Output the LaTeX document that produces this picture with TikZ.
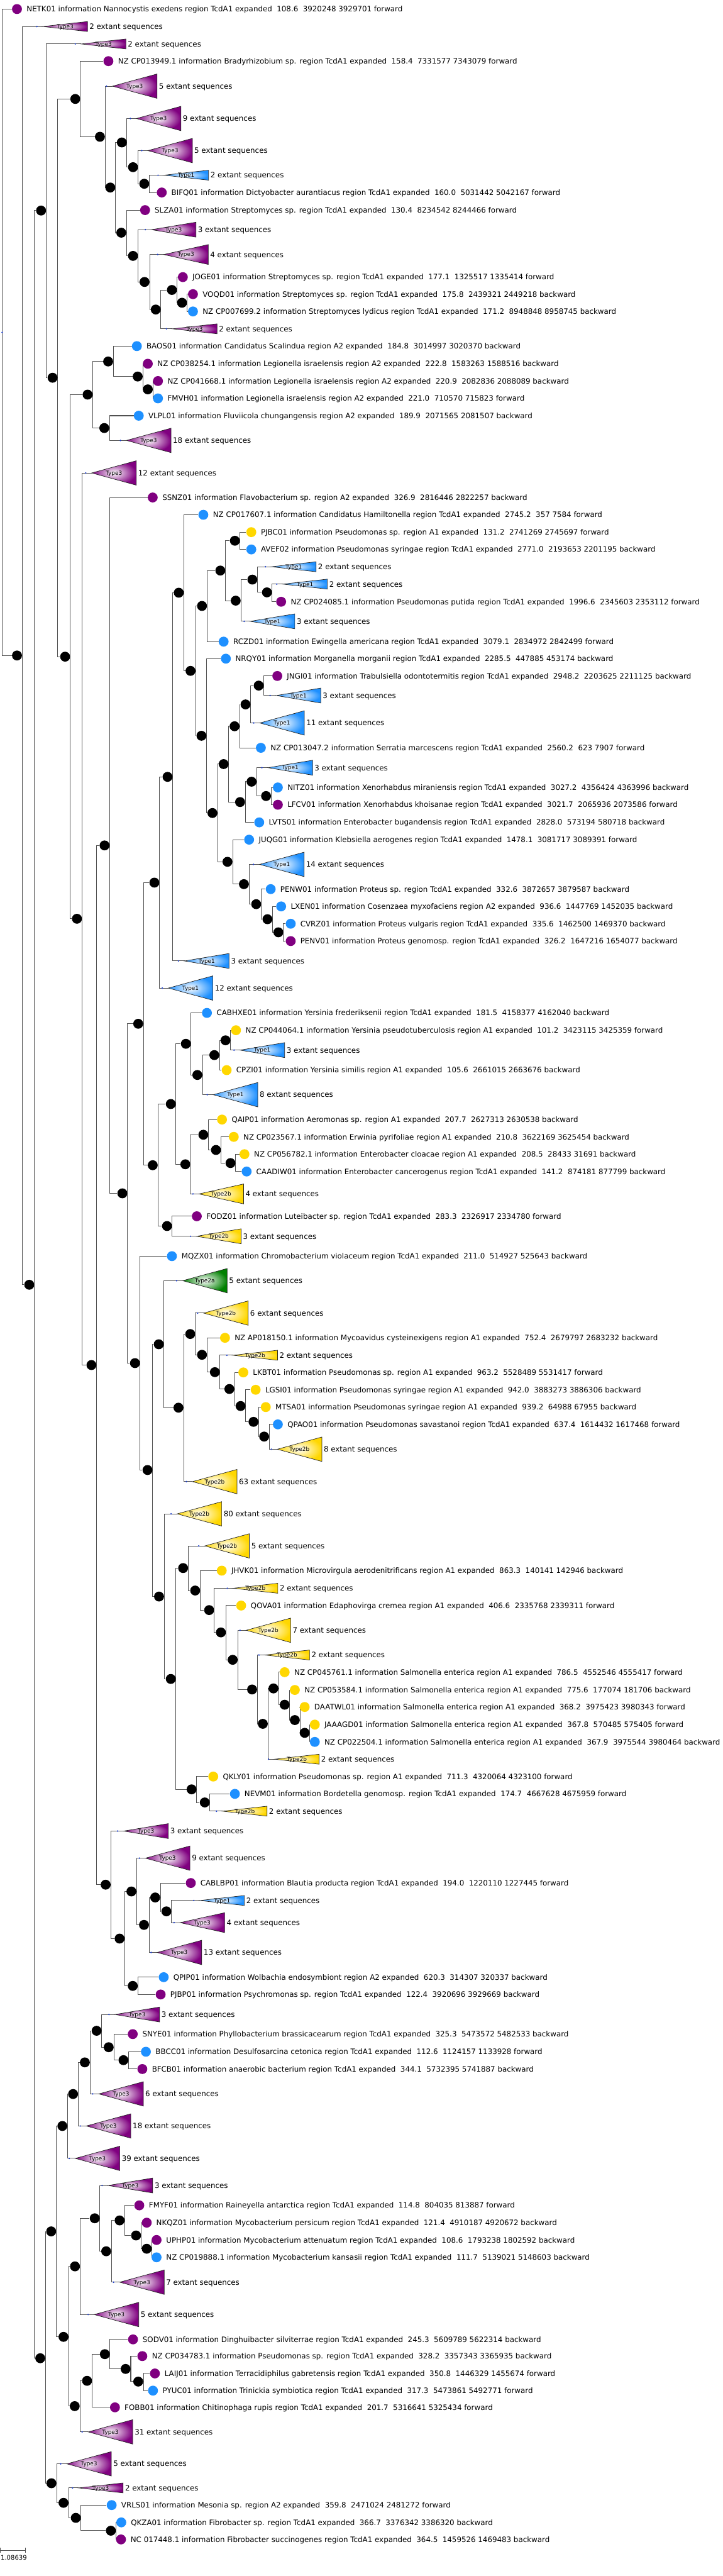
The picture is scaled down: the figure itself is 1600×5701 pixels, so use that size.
\documentclass[tikz,border=0pt]{standalone}
\usepackage{fontspec}
\setmainfont{DejaVu Sans}
\usetikzlibrary{calc}
\definecolor{cP}{HTML}{800080}
\definecolor{cB}{HTML}{1E90FF}
\definecolor{cY}{HTML}{FFD700}
\definecolor{cG}{HTML}{008000}
\definecolor{cD}{HTML}{1A3CC8}
\definecolor{cL}{HTML}{505050}
\pgfdeclarelayer{bg}
\pgfsetlayers{bg,main}
\newcommand\twosp{\ \ }
\newcommand\leafn[5]{\node[leafc, fill=#2] (#1) at (#3,#4) {}; \node[lbl] (#1t) at ({#3+21},{#4+6}) {#5};}
\newcommand\inn[3]{\node[innode] (#1) at (#2,#3) {};}
\newcommand\clade[7]{%
 \coordinate (#1) at ({#2+13.5},#3);
 \shadedraw[tri, outer color=#6] (#1) -- ++(98.5,#4) -- ++(0,{-2*#4}) -- cycle;
 \node[typ] (#1y) at ({#2+62.5},{#3+4.5}) {#5};
 \node[lbl] (#1t) at ({#2+116},{#3+6}) {#7 extant sequences};
 \node[bdot] (#1d) at (#2,#3) {};
}
\begin{document}
\begin{tikzpicture}[x=0.5pt,y=-0.5pt,
 br/.style={draw=cL, line width=0.7pt},
 innode/.style={circle, fill=black, minimum size=11pt, inner sep=0pt},
 leafc/.style={circle, minimum size=11pt, inner sep=0pt},
 lbl/.style={anchor=base west, inner sep=0pt, font=\fontsize{8.25pt}{9pt}\selectfont},
 typ/.style={anchor=base, inner sep=0pt, font=\fontsize{6.2pt}{7pt}\selectfont},
 bdot/.style={circle, fill=cD, minimum size=1.8pt, inner sep=0pt},
 tri/.style={draw=black!85, line width=0.5pt, inner color=white}]
\useasboundingbox (0,0) rectangle (1600,5701);
% ---------- leaves
\leafn{L1}{cP}{37.6}{20}{NETK01 information Nannocystis exedens region TcdA1 expanded\twosp 108.6\twosp 3920248 3929701 forward}
\leafn{L2}{cP}{240}{135.3}{NZ CP013949.1 information Bradyrhizobium sp. region TcdA1 expanded\twosp 158.4\twosp 7331577 7343079 forward}
\leafn{L3}{cP}{358.1}{426}{BIFQ01 information Dictyobacter aurantiacus region TcdA1 expanded\twosp 160.0\twosp 5031442 5042167 forward}
\leafn{L4}{cP}{321.2}{465}{SLZA01 information Streptomyces sp. region TcdA1 expanded\twosp 130.4\twosp 8234542 8244466 forward}
\leafn{L5}{cP}{404.8}{613.3}{JOGE01 information Streptomyces sp. region TcdA1 expanded\twosp 177.1\twosp 1325517 1335414 forward}
\leafn{L6}{cP}{427.2}{651}{VOQD01 information Streptomyces sp. region TcdA1 expanded\twosp 175.8\twosp 2439321 2449218 backward}
\leafn{L7}{cB}{427.2}{689.3}{NZ CP007699.2 information Streptomyces lydicus region TcdA1 expanded\twosp 171.2\twosp 8948848 8958745 backward}
\leafn{L8}{cB}{303}{766}{BAOS01 information Candidatus Scalindua region A2 expanded\twosp 184.8\twosp 3014997 3020370 backward}
\leafn{L9}{cP}{327.2}{805}{NZ CP038254.1 information Legionella israelensis region A2 expanded\twosp 222.8\twosp 1583263 1588516 backward}
\leafn{L10}{cP}{349.7}{843.3}{NZ CP041668.1 information Legionella israelensis region A2 expanded\twosp 220.9\twosp 2082836 2088089 backward}
\leafn{L11}{cB}{349.7}{881.7}{FMVH01 information Legionella israelensis region A2 expanded\twosp 221.0\twosp 710570 715823 forward}
\leafn{L12}{cB}{307.2}{920}{VLPL01 information Fluviicola chungangensis region A2 expanded\twosp 189.9\twosp 2071565 2081507 backward}
\leafn{L13}{cP}{338.1}{1101}{SSNZ01 information Flavobacterium sp. region A2 expanded\twosp 326.9\twosp 2816446 2822257 backward}
\leafn{L14}{cB}{450.2}{1139.3}{NZ CP017607.1 information Candidatus Hamiltonella region TcdA1 expanded\twosp 2745.2\twosp 357 7584 forward}
\leafn{L15}{cY}{556.3}{1177.7}{PJBC01 information Pseudomonas sp. region A1 expanded\twosp 131.2\twosp 2741269 2745697 forward}
\leafn{L16}{cB}{556.3}{1216}{AVEF02 information Pseudomonas syringae region TcdA1 expanded\twosp 2771.0\twosp 2193653 2201195 backward}
\leafn{L17}{cP}{622.4}{1331.7}{NZ CP024085.1 information Pseudomonas putida region TcdA1 expanded\twosp 1996.6\twosp 2345603 2353112 forward}
\leafn{L18}{cB}{495.1}{1420}{RCZD01 information Ewingella americana region TcdA1 expanded\twosp 3079.1\twosp 2834972 2842499 forward}
\leafn{L19}{cB}{500}{1457.7}{NRQY01 information Morganella morganii region TcdA1 expanded\twosp 2285.5\twosp 447885 453174 backward}
\leafn{L20}{cP}{613.9}{1496}{JNGI01 information Trabulsiella odontotermitis region TcdA1 expanded\twosp 2948.2\twosp 2203625 2211125 backward}
\leafn{L21}{cB}{577.5}{1655}{NZ CP013047.2 information Serratia marcescens region TcdA1 expanded\twosp 2560.2\twosp 623 7907 forward}
\leafn{L22}{cB}{615.1}{1742.7}{NITZ01 information Xenorhabdus miraniensis region TcdA1 expanded\twosp 3027.2\twosp 4356424 4363996 backward}
\leafn{L23}{cP}{615.1}{1781}{LFCV01 information Xenorhabdus khoisanae region TcdA1 expanded\twosp 3021.7\twosp 2065936 2073586 forward}
\leafn{L24}{cB}{573.9}{1820}{LVTS01 information Enterobacter bugandensis region TcdA1 expanded\twosp 2828.0\twosp 573194 580718 backward}
\leafn{L25}{cB}{551.5}{1858.3}{JUQG01 information Klebsiella aerogenes region TcdA1 expanded\twosp 1478.1\twosp 3081717 3089391 forward}
\leafn{L26}{cB}{599.3}{1967.7}{PENW01 information Proteus sp. region TcdA1 expanded\twosp 332.6\twosp 3872657 3879587 backward}
\leafn{L27}{cB}{622.4}{2006}{LXEN01 information Cosenzaea myxofaciens region A2 expanded\twosp 936.6\twosp 1447769 1452035 backward}
\leafn{L28}{cB}{643.6}{2044.3}{CVRZ01 information Proteus vulgaris region TcdA1 expanded\twosp 335.6\twosp 1462500 1469370 backward}
\leafn{L29}{cP}{643.6}{2082.7}{PENV01 information Proteus genomosp. region TcdA1 expanded\twosp 326.2\twosp 1647216 1654077 backward}
\leafn{L30}{cB}{458.1}{2241.7}{CABHXE01 information Yersinia frederiksenii region TcdA1 expanded\twosp 181.5\twosp 4158377 4162040 backward}
\leafn{L31}{cY}{522.4}{2280}{NZ CP044064.1 information Yersinia pseudotuberculosis region A1 expanded\twosp 101.2\twosp 3423115 3425359 forward}
\leafn{L32}{cY}{501.8}{2368.3}{CPZI01 information Yersinia similis region A1 expanded\twosp 105.6\twosp 2661015 2663676 backward}
\leafn{L33}{cY}{491.5}{2477.7}{QAIP01 information Aeromonas sp. region A1 expanded\twosp 207.7\twosp 2627313 2630538 backward}
\leafn{L34}{cY}{517.5}{2516}{NZ CP023567.1 information Erwinia pyrifoliae region A1 expanded\twosp 210.8\twosp 3622169 3625454 backward}
\leafn{L35}{cY}{541.2}{2554.3}{NZ CP056782.1 information Enterobacter cloacae region A1 expanded\twosp 208.5\twosp 28433 31691 backward}
\leafn{L36}{cB}{546}{2592.7}{CAADIW01 information Enterobacter cancerogenus region TcdA1 expanded\twosp 141.2\twosp 874181 877799 backward}
\leafn{L37}{cP}{435.7}{2691.7}{FODZ01 information Luteibacter sp. region TcdA1 expanded\twosp 283.3\twosp 2326917 2334780 forward}
\leafn{L38}{cB}{380.6}{2780}{MQZX01 information Chromobacterium violaceum region TcdA1 expanded\twosp 211.0\twosp 514927 525643 backward}
\leafn{L39}{cY}{498.1}{2960.7}{NZ AP018150.1 information Mycoavidus cysteinexigens region A1 expanded\twosp 752.4\twosp 2679797 2683232 backward}
\leafn{L40}{cY}{538.7}{3037.3}{LKBT01 information Pseudomonas sp. region A1 expanded\twosp 963.2\twosp 5528489 5531417 forward}
\leafn{L41}{cY}{566}{3075.7}{LGSI01 information Pseudomonas syringae region A1 expanded\twosp 942.0\twosp 3883273 3886306 backward}
\leafn{L42}{cY}{588.4}{3114}{MTSA01 information Pseudomonas syringae region A1 expanded\twosp 939.2\twosp 64988 67955 backward}
\leafn{L43}{cB}{615.1}{3152.3}{QPAO01 information Pseudomonas savastanoi region TcdA1 expanded\twosp 637.4\twosp 1614432 1617468 forward}
\leafn{L44}{cY}{490.9}{3476}{JHVK01 information Microvirgula aerodenitrificans region A1 expanded\twosp 863.3\twosp 140141 142946 backward}
\leafn{L45}{cY}{533.9}{3553.3}{QOVA01 information Edaphovirga cremea region A1 expanded\twosp 406.6\twosp 2335768 2339311 forward}
\leafn{L46}{cY}{630.2}{3700.7}{NZ CP045761.1 information Salmonella enterica region A1 expanded\twosp 786.5\twosp 4552546 4555417 forward}
\leafn{L47}{cY}{652.7}{3740}{NZ CP053584.1 information Salmonella enterica region A1 expanded\twosp 775.6\twosp 177074 181706 backward}
\leafn{L48}{cY}{674.5}{3777.7}{DAATWL01 information Salmonella enterica region A1 expanded\twosp 368.2\twosp 3975423 3980343 forward}
\leafn{L49}{cY}{696.9}{3816.7}{JAAAGD01 information Salmonella enterica region A1 expanded\twosp 367.8\twosp 570485 575405 forward}
\leafn{L50}{cB}{696.9}{3855}{NZ CP022504.1 information Salmonella enterica region A1 expanded\twosp 367.9\twosp 3975544 3980464 backward}
\leafn{L51}{cY}{472.1}{3931.7}{QKLY01 information Pseudomonas sp. region A1 expanded\twosp 711.3\twosp 4320064 4323100 forward}
\leafn{L52}{cB}{520}{3970}{NEVM01 information Bordetella genomosp. region TcdA1 expanded\twosp 174.7\twosp 4667628 4675959 forward}
\leafn{L53}{cP}{422.4}{4167.3}{CABLBP01 information Blautia producta region TcdA1 expanded\twosp 194.0\twosp 1220110 1227445 forward}
\leafn{L54}{cB}{362.4}{4375.7}{QPIP01 information Wolbachia endosymbiont region A2 expanded\twosp 620.3\twosp 314307 320337 backward}
\leafn{L55}{cP}{355.7}{4414}{PJBP01 information Psychromonas sp. region TcdA1 expanded\twosp 122.4\twosp 3920696 3929669 backward}
\leafn{L56}{cP}{293.9}{4501.7}{SNYE01 information Phyllobacterium brassicacearum region TcdA1 expanded\twosp 325.3\twosp 5473572 5482533 backward}
\leafn{L57}{cB}{323}{4540.7}{BBCC01 information Desulfosarcina cetonica region TcdA1 expanded\twosp 112.6\twosp 1124157 1133928 forward}
\leafn{L58}{cP}{315.1}{4579}{BFCB01 information anaerobic bacterium region TcdA1 expanded\twosp 344.1\twosp 5732395 5741887 backward}
\leafn{L59}{cP}{308.4}{4880.7}{FMYF01 information Raineyella antarctica region TcdA1 expanded\twosp 114.8\twosp 804035 813887 forward}
\leafn{L60}{cP}{324.8}{4919}{NKQZ01 information Mycobacterium persicum region TcdA1 expanded\twosp 121.4\twosp 4910187 4920672 backward}
\leafn{L61}{cP}{346.6}{4957.3}{UPHP01 information Mycobacterium attenuatum region TcdA1 expanded\twosp 108.6\twosp 1793238 1802592 backward}
\leafn{L62}{cB}{346.6}{4995.7}{NZ CP019888.1 information Mycobacterium kansasii region TcdA1 expanded\twosp 111.7\twosp 5139021 5148603 backward}
\leafn{L63}{cP}{294.5}{5177.3}{SODV01 information Dinghuibacter silviterrae region TcdA1 expanded\twosp 245.3\twosp 5609789 5622314 backward}
\leafn{L64}{cP}{315.1}{5214.3}{NZ CP034783.1 information Pseudomonas sp. region TcdA1 expanded\twosp 328.2\twosp 3357343 3365935 backward}
\leafn{L65}{cP}{343}{5252.7}{LAIJ01 information Terracidiphilus gabretensis region TcdA1 expanded\twosp 350.8\twosp 1446329 1455674 forward}
\leafn{L66}{cB}{338.7}{5290.7}{PYUC01 information Trinickia symbiotica region TcdA1 expanded\twosp 317.3\twosp 5473861 5492771 forward}
\leafn{L67}{cP}{254.5}{5327.7}{FOBB01 information Chitinophaga rupis region TcdA1 expanded\twosp 201.7\twosp 5316641 5325434 forward}
\leafn{L68}{cB}{247.2}{5544}{VRLS01 information Mesonia sp. region A2 expanded\twosp 359.8\twosp 2471024 2481272 forward}
\leafn{L69}{cB}{268.5}{5582.3}{QKZA01 information Fibrobacter sp. region TcdA1 expanded\twosp 366.7\twosp 3376342 3386320 backward}
\leafn{L70}{cP}{267.9}{5620}{NC 017448.1 information Fibrobacter succinogenes region TcdA1 expanded\twosp 364.5\twosp 1459526 1469483 backward}
% ---------- collapsed clades
\clade{T1}{81.7}{58.7}{11}{Type3}{cP}{2}
\clade{T2}{166.7}{97.3}{11}{Type3}{cP}{2}
\clade{T3}{235.7}{190.7}{27}{Type3}{cP}{5}
\clade{T4}{288.5}{262.3}{27}{Type3}{cP}{9}
\clade{T5}{313.9}{333.3}{27}{Type3}{cP}{5}
\clade{T6}{349.7}{387.7}{11}{Type1}{cB}{2}
\clade{T7}{321.8}{508.3}{16.5}{Type3}{cP}{3}
\clade{T8}{349.1}{563.3}{22}{Type3}{cP}{4}
\clade{T9}{368.4}{727.7}{11}{Type3}{cP}{2}
\clade{T10}{266.6}{974.7}{27}{Type3}{cP}{18}
\clade{T11}{189.7}{1046.7}{27}{Type3}{cP}{12}
\clade{T12}{359.3}{2186.7}{27}{Type1}{cB}{12}
\clade{T13}{395.1}{2126.7}{16.5}{Type1}{cB}{3}
\clade{T14}{540.6}{1375}{16.5}{Type1}{cB}{3}
\clade{T15}{587.8}{1254.3}{11}{Type1}{cB}{2}
\clade{T16}{612.7}{1292.7}{11}{Type1}{cB}{2}
\clade{T17}{561.8}{1600}{27}{Type1}{cB}{11}
\clade{T18}{598.1}{1539.3}{16.5}{Type1}{cB}{3}
\clade{T19}{580}{1699}{16.5}{Type1}{cB}{3}
\clade{T20}{561.2}{1913}{27}{Type1}{cB}{14}
\clade{T21}{458.7}{2422.7}{27}{Type1}{cB}{8}
\clade{T22}{518.1}{2324}{16.5}{Type1}{cB}{3}
\clade{T23}{427.2}{2642.3}{22}{Type2b}{cY}{4}
\clade{T24}{421.8}{2736}{16.5}{Type2b}{cY}{3}
\clade{T25}{390.9}{2834.3}{27}{Type2a}{cG}{5}
\clade{T26}{412.7}{3279}{27}{Type2b}{cY}{63}
\clade{T27}{437.5}{2906}{27}{Type2b}{cY}{6}
\clade{T28}{502.4}{2999.3}{11}{Type2b}{cY}{2}
\clade{T29}{600.5}{3207.3}{27}{Type2b}{cY}{8}
\clade{T30}{378.8}{3350.3}{27}{Type2b}{cY}{80}
\clade{T31}{440}{3421.3}{27}{Type2b}{cY}{5}
\clade{T32}{503}{3515}{11}{Type2b}{cY}{2}
\clade{T33}{531.5}{3608}{27}{Type2b}{cY}{7}
\clade{T34}{573.3}{3662.7}{11}{Type2b}{cY}{2}
\clade{T35}{594.5}{3893.3}{11}{Type2b}{cY}{2}
\clade{T36}{479.3}{4008.3}{11}{Type2b}{cY}{2}
\clade{T37}{260.6}{4052.3}{16.5}{Type3}{cP}{3}
\clade{T38}{308.5}{4112.3}{27}{Type3}{cP}{9}
\clade{T39}{334.5}{4321}{27}{Type3}{cP}{13}
\clade{T40}{429}{4206}{11}{Type1}{cB}{2}
\clade{T41}{385.4}{4255}{22}{Type3}{cP}{4}
\clade{T42}{153.3}{4776.7}{27}{Type3}{cP}{39}
\clade{T43}{177.6}{4705}{27}{Type3}{cP}{18}
\clade{T44}{205.4}{4634}{27}{Type3}{cP}{6}
\clade{T45}{241.2}{4458.3}{16.5}{Type3}{cP}{3}
\clade{T46}{195.1}{5122.3}{27}{Type3}{cP}{5}
\clade{T47}{226}{4836.7}{16.5}{Type3}{cP}{3}
\clade{T48}{251.5}{5050.7}{27}{Type3}{cP}{7}
\clade{T49}{181.8}{5382}{27}{Type3}{cP}{31}
\clade{T50}{134.5}{5452.7}{27}{Type3}{cP}{5}
\clade{T51}{160.6}{5506}{11}{Type3}{cP}{2}
% ---------- internal nodes
\inn{N1}{37.6}{1450.7}\inn{N2}{64.8}{2843.3}\inn{N3}{90.9}{466}\inn{N4}{89.1}{5219}
\inn{N5}{116.4}{836}\inn{N6}{166.7}{219}\inn{N7}{144.2}{1453.3}\inn{N8}{221.2}{302.7}
\inn{N9}{244.2}{415}\inn{N10}{269.7}{315.3}\inn{N11}{268.5}{515}\inn{N12}{294.5}{370}
\inn{N13}{319.4}{406.7}\inn{N14}{294.5}{566.3}\inn{N15}{320}{624}\inn{N16}{344.8}{685}
\inn{N17}{380.6}{641.7}\inn{N18}{403}{670}\inn{N19}{193.9}{873.3}\inn{N20}{170.3}{2033.3}
\inn{N21}{239.4}{800}\inn{N22}{230.9}{947.3}\inn{N23}{304.8}{833.3}\inn{N24}{327.2}{861.7}
\inn{N25}{202.4}{3021}\inn{N26}{231.5}{1871}\inn{N27}{233.9}{4171}\inn{N28}{270.9}{2641}
\inn{N29}{306}{2265.7}\inn{N30}{298.8}{3016.7}\inn{N31}{341.8}{1953.3}\inn{N32}{338.1}{2578.7}
\inn{N33}{370.9}{1719.3}\inn{N34}{395.7}{1311.7}\inn{N35}{421.8}{1484.7}\inn{N36}{447.2}{1341}
\inn{N37}{446}{1628.3}\inn{N38}{487.8}{1262.7}\inn{N39}{520}{1196.7}\inn{N40}{521.8}{1329.3}
\inn{N41}{558.7}{1282.7}\inn{N42}{590.9}{1311}\inn{N43}{470.3}{1799.3}\inn{N44}{495.1}{1691}
\inn{N45}{503.6}{1907.3}\inn{N46}{519.3}{1607.3}\inn{N47}{531.5}{1775}\inn{N48}{543.6}{1559}
\inn{N49}{572.7}{1517.3}\inn{N50}{556.9}{1730}\inn{N51}{589}{1761.7}\inn{N52}{540}{1956.7}
\inn{N53}{567.2}{2001}\inn{N54}{592.1}{2034.3}\inn{N55}{616.3}{2063.3}\inn{N56}{378.1}{2443.3}
\inn{N57}{369.7}{2713.3}\inn{N58}{411.5}{2310}\inn{N59}{410.3}{2576.7}\inn{N60}{436.9}{2379}
\inn{N61}{474.5}{2335}\inn{N62}{499.3}{2302.3}\inn{N63}{450.2}{2511.3}\inn{N64}{478.1}{2545}
\inn{N65}{510.3}{2574}\inn{N66}{326.6}{3253.3}\inn{N67}{351.5}{2975}\inn{N68}{352.1}{3533.3}
\inn{N69}{395.1}{3115.3}\inn{N70}{421.2}{2952.3}\inn{N71}{447.2}{2998.3}\inn{N72}{475.7}{3036.7}
\inn{N73}{507.8}{3074}\inn{N74}{532.7}{3111.7}\inn{N75}{561.2}{3146.7}\inn{N76}{584.8}{3179.3}
\inn{N77}{378.1}{3715.7}\inn{N78}{405.4}{3470.3}\inn{N79}{424.2}{3960}\inn{N80}{432.1}{3520}
\inn{N81}{463}{3563.3}\inn{N82}{489}{3612.7}\inn{N83}{515.1}{3673.3}\inn{N84}{558.1}{3739}
\inn{N85}{581.8}{3815}\inn{N86}{605.4}{3736.7}\inn{N87}{630.2}{3772.7}\inn{N88}{652.7}{3806.7}
\inn{N89}{674.5}{3835}\inn{N90}{453.3}{3989}\inn{N91}{264.8}{4290.3}\inn{N92}{290.9}{4186}
\inn{N93}{293.9}{4395}\inn{N94}{318.8}{4260}\inn{N95}{343.6}{4199.3}\inn{N96}{368.4}{4230}
\inn{N97}{113.3}{4938.3}\inn{N98}{113.9}{5495.7}\inn{N99}{138.1}{4705}\inn{N100}{140.6}{5171.7}
\inn{N101}{161.8}{4634.3}\inn{N102}{187.8}{4564.3}\inn{N103}{213.9}{4494.3}\inn{N104}{240.6}{4530.7}
\inn{N105}{273.3}{4559.3}\inn{N106}{166}{5015.7}\inn{N107}{165.4}{5325}\inn{N108}{209.7}{4909.3}
\inn{N109}{235.1}{4982.3}\inn{N110}{264.8}{4914}\inn{N111}{301.2}{4947.3}\inn{N112}{324.8}{4976.7}
\inn{N113}{192.7}{5269}\inn{N114}{232.1}{5210}\inn{N115}{278.1}{5242.7}\inn{N116}{306}{5270.7}
\inn{N117}{140.6}{5539}\inn{N118}{167.8}{5572.3}\inn{N119}{245.4}{5600.7}
\node[bdot] (R) at (4.8,735.5) {};
% ---------- branches
\begin{pgfonlayer}{bg}
\draw[br] (R.center) |- (L1);
\draw[br] (R.center) |- (N1);
\foreach \p/\c in {N1/T1,N1/N2,N2/N3,N2/N4,N3/T2,N3/N5,N5/N6,N5/N7,N6/L2,N6/N8,N8/T3,N8/N9,N9/N10,N9/N11,N10/T4,N10/N12,N12/T5,N12/N13,N13/T6,N13/L3,N11/L4,N11/N14,N14/T7,N14/N15,N15/T8,N15/N16,N16/N17,N16/T9,N17/L5,N17/N18,N18/L6,N18/L7,N7/N19,N7/N20,N19/N21,N19/N22,N21/L8,N21/N23,N23/L9,N23/N24,N24/L10,N24/L11,N22/L12,N22/T10,N20/T11,N20/N25,N25/N26,N25/N27,N26/L13,N26/N28,N28/N29,N28/N30,N29/N31,N29/N32,N31/N33,N31/T12,N33/N34,N33/T13,N34/L14,N34/N35,N35/N36,N35/N37,N36/N38,N36/L18,N38/N39,N38/N40,N39/L15,N39/L16,N40/N41,N40/T14,N41/T15,N41/N42,N42/T16,N42/L17,N37/L19,N37/N43,N43/N44,N43/N45,N44/N46,N44/N47,N46/N48,N46/L21,N48/N49,N48/T17,N49/L20,N49/T18,N47/N50,N47/L24,N50/T19,N50/N51,N51/L22,N51/L23,N45/L25,N45/N52,N52/T20,N52/N53,N53/L26,N53/N54,N54/L27,N54/N55,N55/L28,N55/L29,N32/N56,N32/N57,N56/N58,N56/N59,N58/L30,N58/N60,N60/N61,N60/T21,N61/N62,N61/L32,N62/L31,N62/T22,N59/N63,N59/T23,N63/L33,N63/N64,N64/L34,N64/N65,N65/L35,N65/L36,N57/L37,N57/T24,N30/L38,N30/N66,N66/N67,N66/N68,N67/T25,N67/N69,N69/N70,N69/T26,N70/T27,N70/N71,N71/L39,N71/N72,N72/T28,N72/N73,N73/L40,N73/N74,N74/L41,N74/N75,N75/L42,N75/N76,N76/L43,N76/T29,N68/T30,N68/N77,N77/N78,N77/N79,N78/T31,N78/N80,N80/L44,N80/N81,N81/T32,N81/N82,N82/L45,N82/N83,N83/T33,N83/N84,N84/T34,N84/N85,N85/N86,N85/T35,N86/L46,N86/N87,N87/L47,N87/N88,N88/L48,N88/N89,N89/L49,N89/L50,N79/L51,N79/N90,N90/L52,N90/T36,N27/T37,N27/N91,N91/N92,N91/N93,N92/T38,N92/N94,N94/N95,N94/T39,N95/L53,N95/N96,N96/T40,N96/T41,N93/L54,N93/L55,N4/N97,N4/N98,N97/N99,N97/N100,N99/N101,N99/T42,N101/N102,N101/T43,N102/N103,N102/T44,N103/T45,N103/N104,N104/L56,N104/N105,N105/L57,N105/L58,N100/N106,N100/N107,N106/N108,N106/T46,N108/T47,N108/N109,N109/N110,N109/T48,N110/L59,N110/N111,N111/L60,N111/N112,N112/L61,N112/L62,N107/N113,N107/T49,N113/N114,N113/L67,N114/L63,N114/N115,N115/L64,N115/N116,N116/L65,N116/L66,N98/T50,N98/N117,N117/T51,N117/N118,N118/L68,N118/N119,N119/L69,N119/L70}
  \draw[br] (\p.east) |- (\c);
\end{pgfonlayer}
% ---------- scale bar
\coordinate (sb1) at (1.2,5644);
\coordinate (sb2) at (55.7,5644);
\draw[cL, line width=0.7pt] (sb1) -- (sb2);
\draw[cL, line width=0.7pt] ($(sb1)+(0,-6)$) -- ($(sb1)+(0,6)$);
\draw[cL, line width=0.7pt] ($(sb2)+(0,-6)$) -- ($(sb2)+(0,6)$);
\node[anchor=base west, inner sep=0pt, font=\fontsize{7pt}{8pt}\selectfont] (sbl) at (1.2,5665) {1.08639};
\end{tikzpicture}
\end{document}
